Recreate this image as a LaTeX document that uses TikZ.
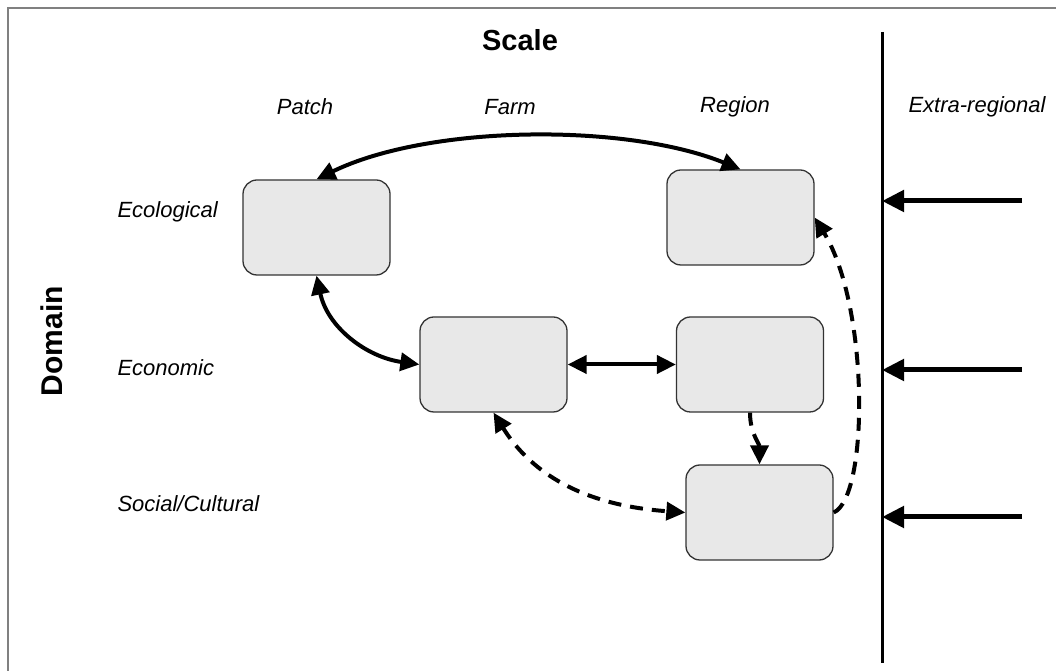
\documentclass[tikz,border=0pt]{standalone}
\usepackage{fontspec}
\setmainfont{Liberation Sans}
\usetikzlibrary{arrows.meta}

\tikzset{
	box/.style={draw=black!80, line width=1.3pt, fill=black!9, rounded corners=14pt,
		minimum width=147pt, minimum height=95pt, inner sep=0pt},
	lbl/.style={font=\fontsize{22}{26}\selectfont\itshape},
	link/.style={line width=4pt, {Triangle[length=19pt,width=18pt]}-{Triangle[length=19pt,width=18pt]}},
	dlink/.style={link, dash pattern=on 13pt off 9pt},
	extin/.style={line width=5pt, -{Triangle[length=22pt,width=21pt]}}
}

\begin{document}
\begin{tikzpicture}[x=1pt,y=1pt]
	\useasboundingbox (0,0) rectangle (1056,671);
	
	%frame
	\draw[black!50, line width=2pt] (8,0) -- (8,663) -- (1056,663);
	
	%titles
	\node[font=\fontsize{29}{34}\selectfont\bfseries] (scale) at (520,631){Scale};
	\node[font=\fontsize{30}{35}\selectfont\bfseries, rotate=90] (domain) at (52,330){Domain};
	
	%scale labels
	\node[lbl] (patch) at (305,564){Patch};
	\node[lbl] (farm) at (510,564){Farm};
	\node[lbl] (region) at (735,564){Region};
	\node[lbl] (extra) at (977,564){Extra-regional};
	
	%domain labels
	\node[lbl, anchor=west] (ecol) at (114,459){Ecological};
	\node[lbl, anchor=west] (econ) at (114,303){Economic};
	\node[lbl, anchor=west] (socl) at (114,167){Social/Cultural};
	
	%boxes
	\node[box] (ecoP) at (316.5,443.5){};
	\node[box] (ecoR) at (740.5,453.5){};
	\node[box] (ecnF) at (493.5,306.5){};
	\node[box] (ecnR) at (750,306.5){};
	\node[box] (socR) at (759.5,158.5){};
	
	%boundary
	\coordinate (bndT) at (882,639);
	\coordinate (bndB) at (882,8);
	\draw[line width=3pt] (bndT) -- (bndB);
	
	%extra-regional inputs
	\coordinate (ext1) at (1022,470);
	\coordinate (ext2) at (1022,301);
	\coordinate (ext3) at (1022,154);
	\draw[extin] (ext1) -- (ext1 -| bndT);
	\draw[extin] (ext2) -- (ext2 -| bndT);
	\draw[extin] (ext3) -- (ext3 -| bndT);
	
	%links
	\draw[link] (ecoP.north) to[out=26,in=158,looseness=0.75] (ecoR.north);
	\draw[link] (ecoP.south) to[out=-78,in=172] (ecnF.west);
	\draw[link] (ecnF.east) -- (ecnR.west);
	
	\draw[dlink, -{Triangle[length=19pt,width=18pt]}] (ecnR.south) to[out=-90,in=90] (socR.north);
	\draw[dlink] (ecnF.south) to[out=-58,in=176] (socR.west);
	\draw[dlink, -{Triangle[length=19pt,width=18pt]}] (socR.east) .. controls +(35,15) and +(55,-90) .. (ecoR.east);
	
\end{tikzpicture}
\end{document}
